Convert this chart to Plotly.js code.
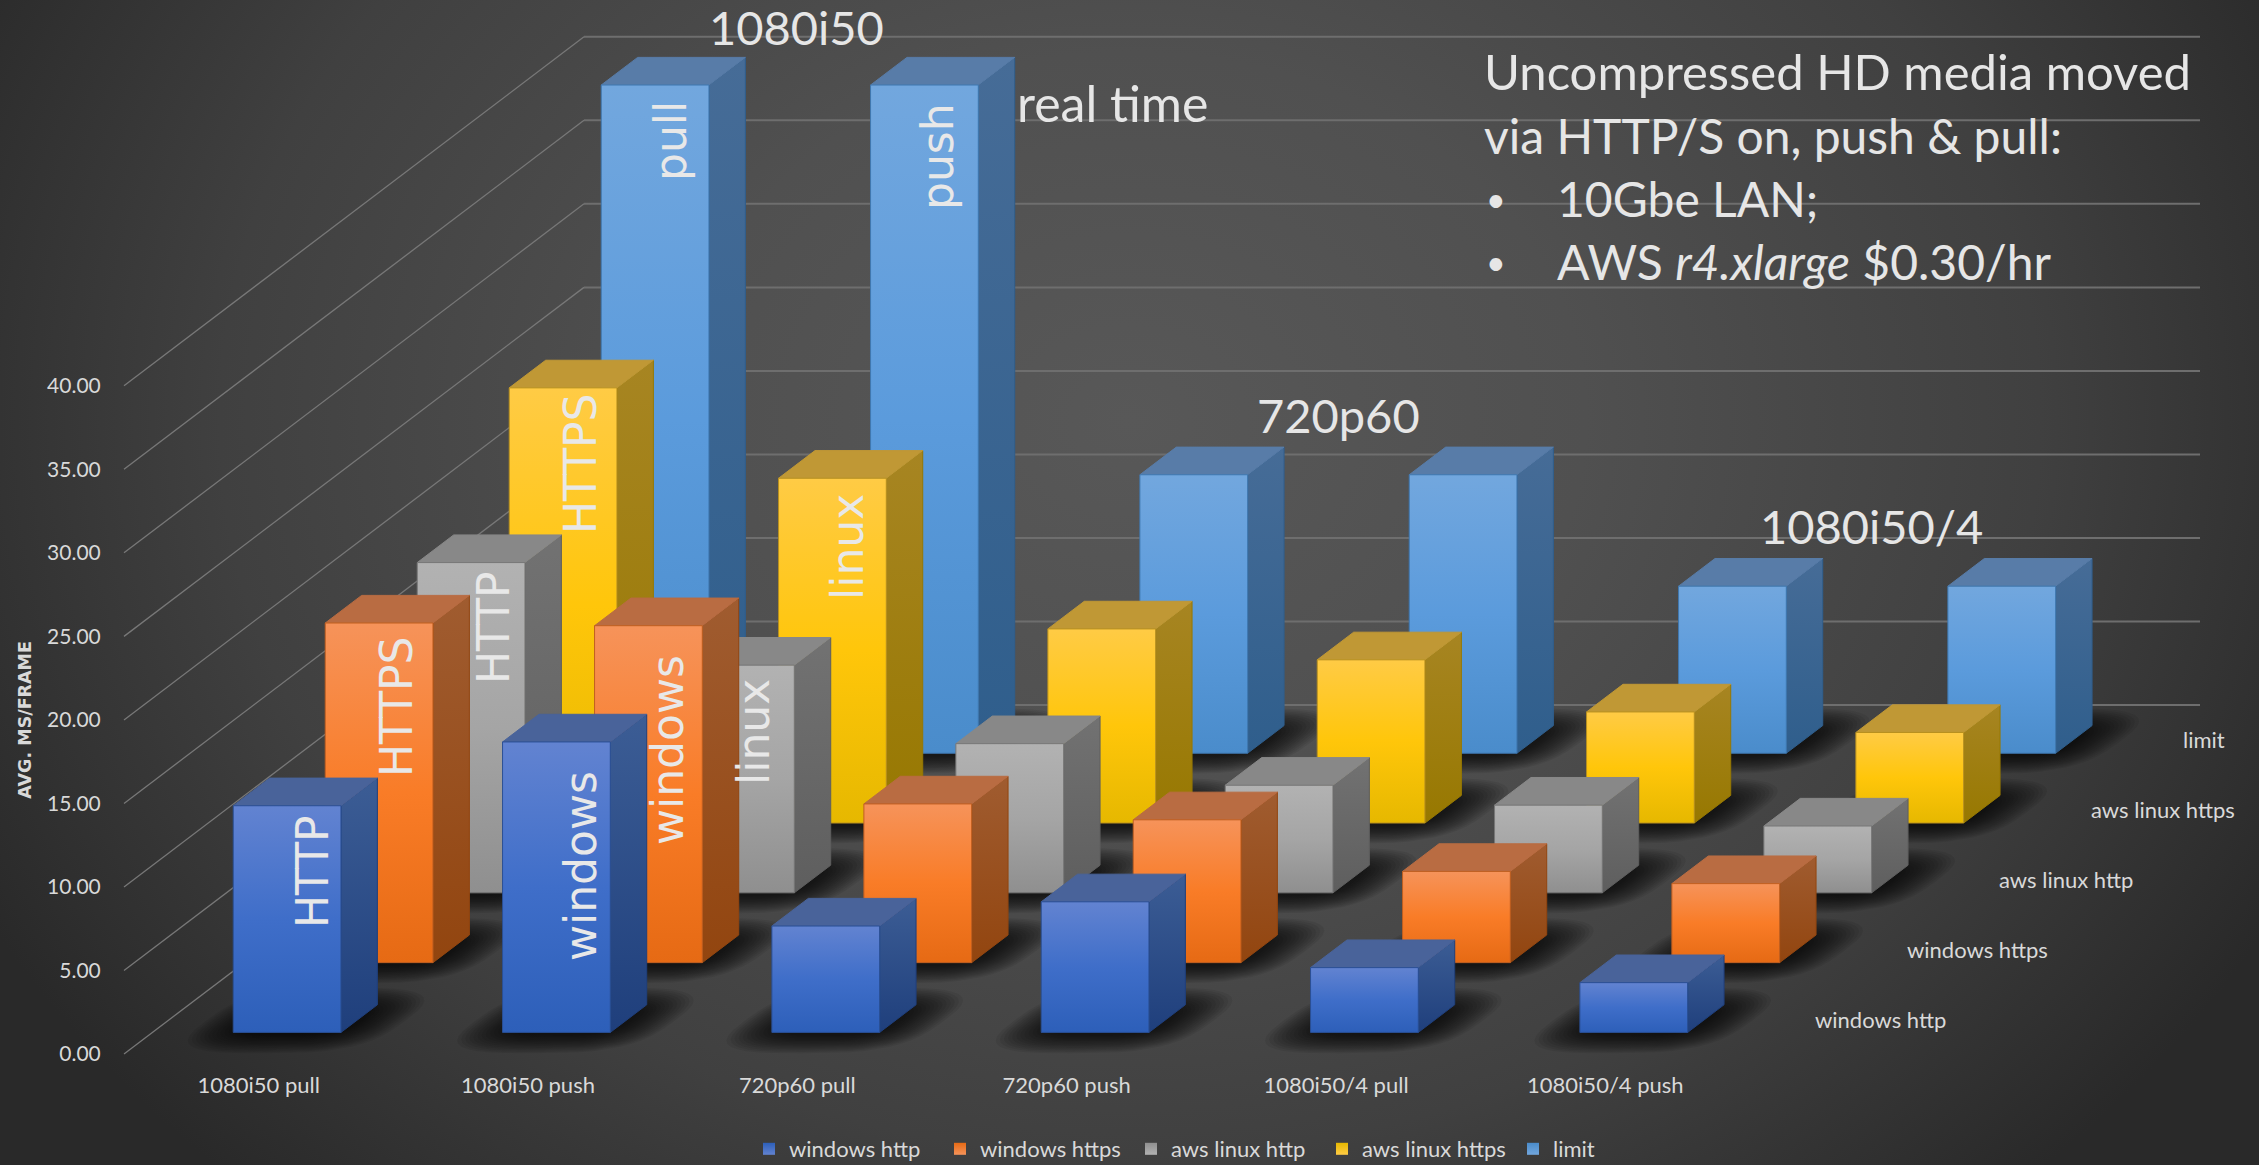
<!DOCTYPE html>
<html><head><meta charset="utf-8">
<script src="https://cdn.plot.ly/plotly-3.0.1.min.js"></script>
<style>html,body{margin:0;padding:0;width:2259px;height:1165px;overflow:hidden;background:#2b2b2b}
body{background:radial-gradient(ellipse 1300px 1050px at 1130px 420px,#585858 0%,#505050 35%,#404040 70%,#292929 100%)}</style>
</head><body><div id="chart" style="width:2259px;height:1165px"></div>
<script>
const categories=["1080i50 pull","1080i50 push","720p60 pull","720p60 push","1080i50/4 pull","1080i50/4 push"];
const seriesNames=["windows http","windows https","aws linux http","aws linux https","limit"];
const windowsHttp=[13.57,17.39,6.37,7.82,3.88,2.98];
const windowsHttps=[20.33,20.17,9.5,8.55,5.46,4.73];
const awsHttp=[19.77,13.63,8.93,6.44,5.25,4.0];
const awsHttps=[26.05,20.64,11.62,9.77,6.65,5.42];
const limit=[40,40,16.67,16.67,10,10];
const yTicks=[0,5,10,15,20,25,30,35,40];
const seriesValues=[windowsHttp,windowsHttps,awsHttp,awsHttps,limit];
const palette=[
 {f:["#6283d1","#3f6ec9","#2d5fb9"],s:["#3c5d95","#1f3f7c"],t:"#49639a",e:"#2a4f94"},
 {f:["#f6935a","#f97c27","#e66a14"],s:["#a05c30","#92450f"],t:"#b96c42",e:"#c05f20"},
 {f:["#b2b2b2","#a5a5a5","#8f8f8f"],s:["#727272","#5e5e5e"],t:"#888888",e:"#777777"},
 {f:["#ffcb45","#ffc60a","#e6b800"],s:["#a78522","#977800"],t:"#c09835",e:"#b89020"},
 {f:["#72a7de","#5b9bdc","#4a8ccb"],s:["#466c97","#2f5e8c"],t:"#587ca8",e:"#3f78b0"}];

// oblique projection of the 3-D chart box onto the 2-D axes
const L=124,R=519,T=385.8,B=111,W=2259,H=1165;
const pxC=(W-L-R)/6, pxV=(H-T-B)/40, dxD=92, dyD=69.8;
const depthX=dxD/pxC, depthY=dyD/pxV;
const P=(c,d,v)=>[c+d*depthX, v+d*depthY];
const paperX=x=>x/W, paperY=y=>(H-y)/H;

const traces=[];
function poly(pts,extra){
  traces.push(Object.assign({type:"scatter",mode:"lines",x:pts.map(p=>p&&p[0]),y:pts.map(p=>p&&p[1]),
    fill:"toself",hoverinfo:"skip",showlegend:false},extra));
}
function line(pts,color,w){
  traces.push({type:"scatter",mode:"lines",x:pts.map(p=>p[0]),y:pts.map(p=>p[1]),line:{color:color,width:w},
    hoverinfo:"skip",showlegend:false});
}
// grid: wall lines and the diagonal side-wall lines
yTicks.forEach(v=>{
  line([P(0,5,v),P(6,5,v)],"#6e6e6e",2);
  line([P(0,0,v),P(0,5,v)],"#787878",1.3);
});
// soft contact shadows on the floor
const N=14;
for(let k=N;k>=1;k--){
  const pts=[];
  seriesValues.forEach((vals,s)=>vals.forEach((v,c)=>{
    const g=k/N, hx=0.2+0.17*g, hd=0.2+0.27*g, cx=c+0.5+0.012, cd=s+0.5-0.02;
    for(let i=0;i<=40;i++){
      const a=i/40*2*Math.PI, ca=Math.cos(a), sa=Math.sin(a);
      const ex=Math.sign(ca)*Math.pow(Math.abs(ca),0.65), ey=Math.sign(sa)*Math.pow(Math.abs(sa),0.65);
      pts.push(P(cx+hx*ex,cd+hd*ey,0));
    }
    pts.push(null);
  }));
  poly(pts,{line:{width:0,color:"rgba(0,0,0,0)"},fillcolor:"rgba(0,0,0,0.07)"});
}
// bars, back row first
const bw=0.2, bd=0.198;
for(let s=4;s>=0;s--){
  const pal=palette[s];
  seriesValues[s].forEach((v,i)=>{
    const c=i+0.5,d=s+0.507,a=c-bw,b=c+bw,f=d-bd,k=d+bd;
    poly([P(b,f,0),P(b,k,0),P(b,k,v),P(b,f,v),P(b,f,0)],{line:{color:pal.s[1],width:1},
      fillgradient:{type:"vertical",colorscale:[[0,pal.s[1]],[1,pal.s[0]]]}});
    poly([P(a,f,v),P(b,f,v),P(b,k,v),P(a,k,v),P(a,f,v)],{line:{color:pal.t,width:1},fillcolor:pal.t});
    poly([P(a,f,0),P(b,f,0),P(b,f,v),P(a,f,v),P(a,f,0)],{line:{color:pal.e,width:1},
      fillgradient:{type:"vertical",colorscale:[[0,pal.f[2]],[0.5,pal.f[1]],[1,pal.f[0]]]}});
  });
}
// legend entries; these also carry the tick-bearing axes
seriesNames.forEach((n,s)=>traces.push({type:"scatter",mode:"markers",x:[null],y:[null],xaxis:"x2",yaxis:"y2",name:n,hoverinfo:"skip",
  marker:{symbol:"square",size:14,color:palette[s].f[2],gradient:{type:"vertical",color:palette[s].f[0]}}}));

const ann=[];
function text(t,x,y,size,o){
  ann.push(Object.assign({text:t,xref:"paper",yref:"paper",x:paperX(x),y:paperY(y),showarrow:false,
    xanchor:"center",yanchor:"middle",font:{family:"Lato",size:size,color:"#e6e6e6"}},o||{}));
}
const bar=(t,x,y)=>text(t,x,y,44,{textangle:-90,font:{family:"DejaVu Sans",size:44,color:"#e8e8e8"}});
bar("pull",670,141);bar("push",937,157);bar("HTTPS",580,464);bar("linux",847,547);
bar("HTTP",494,628);bar("linux",753,732);bar("HTTPS",396,707);bar("windows",667,750);
bar("HTTP",312,872);bar("windows",580,866);
text("1080i50",796,27,47);text("real time",1112,103,50);text("720p60",1338,415,47);text("1080i50/4",1871,526,47);
const left={xanchor:"left"};
text("Uncompressed HD media moved",1482,71,49,left);
text("via HTTP/S on, push &amp; pull:",1482,136,48,left);
text("•",1484,199,34,left);text("10Gbe LAN;",1555,199,48,left);
text("•",1484,262,34,left);text("AWS <i>r4.xlarge</i> $0.30/hr",1555,262,48,left);
seriesNames.forEach((n,s)=>{
  text(n,L+6*pxC+dxD*(s+0.5)+27,H-B-dyD*(s+0.5),22,{xanchor:"left",font:{family:"Lato",size:22,color:"#d9d9d9"}});
});

const hidden={showgrid:false,zeroline:false,showline:false,showticklabels:false,ticks:"",fixedrange:true};
const layout={width:W,height:H,margin:{l:0,r:0,t:0,b:0,pad:0,autoexpand:false},paper_bgcolor:"rgba(0,0,0,0)",plot_bgcolor:"rgba(0,0,0,0)",
  font:{family:"Lato",color:"#d9d9d9"},hovermode:false,
  xaxis:Object.assign({range:[-L/pxC,(W-L)/pxC],domain:[0,1]},hidden),
  yaxis:Object.assign({range:[-B/pxV,(H-B)/pxV],domain:[0,1]},hidden),
  xaxis2:{anchor:"y2",domain:[L/W,(W-R)/W],range:[0,6],showgrid:false,zeroline:false,showline:false,tickmode:"array",tickvals:categories.map((_,i)=>i+0.5),ticktext:categories,
    ticks:"outside",ticklen:12,tickcolor:"rgba(0,0,0,0)",tickfont:{family:"Lato",size:22,color:"#d9d9d9"},fixedrange:true},
  yaxis2:{anchor:"x2",domain:[B/H,(H-T)/H],range:[0,40],showgrid:false,zeroline:false,showline:false,tickmode:"array",tickvals:yTicks,ticktext:yTicks.map(v=>v.toFixed(2)),
    ticks:"outside",ticklen:18,tickcolor:"rgba(0,0,0,0)",tickfont:{family:"Lato",size:21,color:"#d9d9d9"},fixedrange:true,
    title:{text:"AVG. MS/FRAME",standoff:10,font:{family:"DejaVu Sans",size:17.5,weight:700,color:"#d9d9d9"}}},
  legend:{orientation:"h",x:paperX(749),xanchor:"left",y:paperY(1149),yanchor:"middle",bgcolor:"rgba(0,0,0,0)",entrywidth:146,entrywidthmode:"pixels",
    font:{family:"Lato",size:22,color:"#d9d9d9"},itemsizing:"constant",traceorder:"normal"},
  annotations:ann};
Plotly.newPlot("chart",traces,layout,{displayModeBar:false,staticPlot:true});
</script></body></html>
